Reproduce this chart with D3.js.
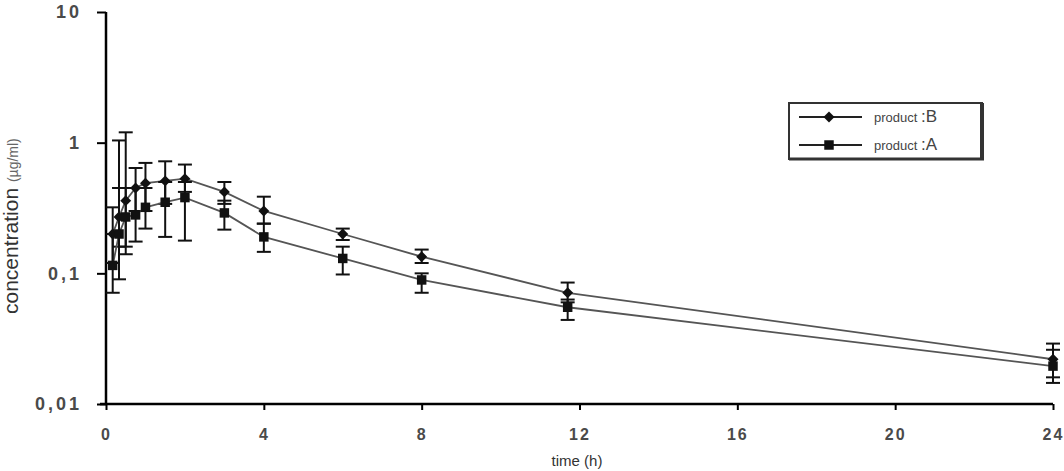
<!DOCTYPE html>
<html lang="en">
<head>
<meta charset="UTF-8">
<title>concentration vs time</title>
<script src="https://cdn.jsdelivr.net/npm/d3@7"></script>
<style>
  body { margin: 0; background: #fff; }
  text { font-family: "Liberation Sans", Arial, sans-serif; }
</style>
</head>
<body>
<script>
  // sampling times (h)
  const times = [0.17, 0.33, 0.5, 0.75, 1, 1.5, 2, 3, 4, 6, 8, 11.7, 24];

  // product B (diamonds)
  const productB = [0.20, 0.27, 0.36, 0.45, 0.49, 0.51, 0.53, 0.42, 0.30, 0.20, 0.134, 0.071, 0.022];
  const productBLow = [0.12, 0.16, 0.14, 0.30, 0.30, 0.34, 0.42, 0.34, 0.24, 0.18, 0.12, 0.06, 0.016];
  const productBHigh = [0.32, 0.45, 1.2, 0.64, 0.70, 0.72, 0.68, 0.50, 0.386, 0.22, 0.152, 0.085, 0.029];

  // product A (squares)
  const productA = [0.115, 0.20, 0.27, 0.28, 0.32, 0.35, 0.38, 0.29, 0.19, 0.13, 0.089, 0.055, 0.0195];
  const productALow = [0.071, 0.09, 0.16, 0.175, 0.22, 0.19, 0.178, 0.216, 0.146, 0.098, 0.071, 0.044, 0.0145];
  const productAHigh = [0.20, 1.04, 0.45, 0.45, 0.45, 0.50, 0.50, 0.36, 0.24, 0.16, 0.10, 0.063, 0.026];

  const xTicks = [0, 4, 8, 12, 16, 20, 24];
  const yTicks = [0.01, 0.1, 1, 10];

  const w = 1064, h = 471;

  const x = d3.scaleLinear().domain([0, 24]).range([106, 1053]);
  const y = d3.scaleLog().domain([0.01, 10]).range([404, 12]);

  const svg = d3.select("body").append("svg")
    .attr("width", w)
    .attr("height", h);

  const comma = d => String(d).replace(".", ",");

  // y axis
  const yAxis = svg.append("g")
    .attr("transform", `translate(${x(0)},0)`)
    .call(d3.axisLeft(y).tickValues(yTicks).tickFormat(comma).tickSize(9).tickPadding(15));
  yAxis.select(".domain").attr("stroke-width", 2.5).attr("d", `M0,${y(10)}V${y(0.01)}`);
  yAxis.selectAll(".tick line").attr("stroke-width", 2);
  yAxis.selectAll(".tick text")
    .attr("font-size", 18)
    .attr("font-weight", "bold")
    .attr("letter-spacing", 3)
    .attr("fill", "#4a4a4a");

  // x axis
  const xAxis = svg.append("g")
    .attr("transform", `translate(0,${y(0.01)})`)
    .call(d3.axisBottom(x).tickValues(xTicks).tickSize(6).tickPadding(19));
  xAxis.select(".domain").attr("stroke-width", 2.5).attr("d", `M${x(0) - 6},0H${x(24)}`);
  xAxis.selectAll(".tick line").attr("stroke-width", 2);
  xAxis.selectAll(".tick text")
    .attr("font-size", 16)
    .attr("font-weight", "bold")
    .attr("letter-spacing", 2)
    .attr("fill", "#4a4a4a");

  // axis titles
  svg.append("text")
    .attr("x", 577)
    .attr("y", 466)
    .attr("text-anchor", "middle")
    .attr("font-size", 15)
    .attr("fill", "#333")
    .text("time (h)");

  const yl = svg.append("text")
    .attr("transform", "translate(18,314) rotate(-90)")
    .attr("fill", "#333");
  yl.append("tspan").attr("font-size", 21).text("concentration ");
  yl.append("tspan").attr("font-size", 14).attr("fill", "#666").text("(µg/ml)");

  // series
  const diamond = d3.symbol().type(d3.symbolSquare).size(60);
  const square = d3.symbol().type(d3.symbolSquare).size(90);
  const series = [
    { name: "B", vals: productB, low: productBLow, high: productBHigh, sym: diamond, rot: 45 },
    { name: "A", vals: productA, low: productALow, high: productAHigh, sym: square, rot: 0 }
  ];

  const line = d3.line().x((d, i) => x(times[i])).y(d => y(d));

  series.forEach(s => {
    const g = svg.append("g");

    g.append("path")
      .datum(s.vals)
      .attr("fill", "none")
      .attr("stroke", "#555")
      .attr("stroke-width", 1.8)
      .attr("d", line);

    // error bars
    const eb = g.selectAll(".eb").data(times).enter().append("g");
    eb.append("line")
      .attr("x1", d => x(d)).attr("x2", d => x(d))
      .attr("y1", (d, i) => y(s.high[i])).attr("y2", (d, i) => y(s.low[i]))
      .attr("stroke", "#111").attr("stroke-width", 2);
    eb.append("line")
      .attr("x1", d => x(d) - 7).attr("x2", d => x(d) + 7)
      .attr("y1", (d, i) => y(s.high[i])).attr("y2", (d, i) => y(s.high[i]))
      .attr("stroke", "#111").attr("stroke-width", 2);
    eb.append("line")
      .attr("x1", d => x(d) - 7).attr("x2", d => x(d) + 7)
      .attr("y1", (d, i) => y(s.low[i])).attr("y2", (d, i) => y(s.low[i]))
      .attr("stroke", "#111").attr("stroke-width", 2);

    // markers
    g.selectAll(".mk").data(s.vals).enter().append("path")
      .attr("transform", (d, i) => `translate(${x(times[i])},${y(d)}) rotate(${s.rot})`)
      .attr("d", s.sym)
      .attr("fill", "#111");
  });

  // legend
  const lg = svg.append("g");
  lg.append("rect")
    .attr("x", 789).attr("y", 103).attr("width", 193).attr("height", 56)
    .attr("fill", "#fff").attr("stroke", "#333").attr("stroke-width", 2);
  lg.append("line").attr("x1", 982).attr("x2", 982).attr("y1", 103).attr("y2", 160)
    .attr("stroke", "#333").attr("stroke-width", 4);
  lg.append("line").attr("x1", 789).attr("x2", 984).attr("y1", 159).attr("y2", 159)
    .attr("stroke", "#333").attr("stroke-width", 3);

  const legendRows = [
    { label: "B", ly: 117, sym: diamond, rot: 45 },
    { label: "A", ly: 145, sym: square, rot: 0 }
  ];
  legendRows.forEach(r => {
    lg.append("line").attr("x1", 799).attr("x2", 862).attr("y1", r.ly).attr("y2", r.ly)
      .attr("stroke", "#222").attr("stroke-width", 1.8);
    lg.append("path").attr("transform", `translate(829,${r.ly}) rotate(${r.rot})`).attr("d", r.sym).attr("fill", "#111");
    const t = lg.append("text").attr("x", 874).attr("y", r.ly + 5).attr("fill", "#444");
    t.append("tspan").attr("font-size", 13).text("product ");
    t.append("tspan").attr("font-size", 17).text(":" + r.label);
  });
</script>
</body>
</html>
